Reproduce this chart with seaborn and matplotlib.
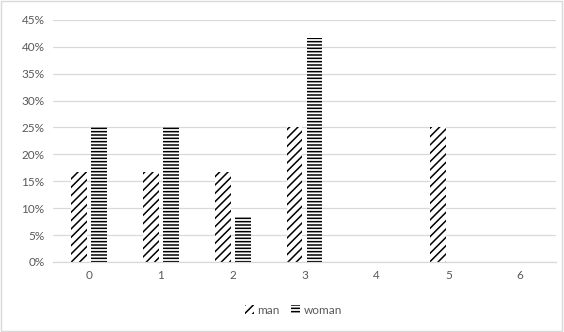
import matplotlib
matplotlib.use("Agg")
import matplotlib.pyplot as plt
import seaborn as sns
import pandas as pd
from matplotlib.ticker import PercentFormatter, MultipleLocator
from matplotlib.patches import Rectangle

categories = ["0", "1", "2", "3", "4", "5", "6"]
man = [0.167, 0.167, 0.167, 0.25, 0.0, 0.25, 0.0]
woman = [0.25, 0.25, 0.083, 0.417, 0.0, 0.0, 0.0]
series = ["man", "woman"]
hatches = {"man": "////", "woman": "-----"}

df = pd.DataFrame({
    "cat": categories * 2,
    "value": man + woman,
    "gender": ["man"] * len(categories) + ["woman"] * len(categories),
})

sns.set_theme(style="white")
plt.rcParams["font.family"] = ["Lato", "DejaVu Sans"]
plt.rcParams["hatch.linewidth"] = 1.1

fig = plt.figure(figsize=(5.64, 3.32), dpi=100)
ax = fig.add_axes([0.094, 0.211, 0.892, 0.729])

sns.barplot(data=df, x="cat", y="value", hue="gender", order=categories,
            hue_order=series, palette=["white", "white"], width=0.556, gap=0.21,
            edgecolor="black", linewidth=0, legend=False, ax=ax)

for cont, s in zip(ax.containers, series):
    for p in cont.patches:
        p.set_hatch(hatches[s])
        p.set_edgecolor("black")
        p.set_linewidth(0)

ax.set_ylim(0, 0.45)
ax.set_xlim(-0.5, 6.5)
ax.yaxis.set_major_locator(MultipleLocator(0.05))
ax.yaxis.set_major_formatter(PercentFormatter(1.0, decimals=0))
ax.grid(axis="y", color="#d9d9d9", linewidth=0.9)
ax.set_axisbelow(True)
for sp in ["top", "right", "left"]:
    ax.spines[sp].set_visible(False)
ax.spines["bottom"].set_color("#d9d9d9")
ax.spines["bottom"].set_linewidth(0.9)
ax.tick_params(axis="both", colors="#595959", labelsize=8.5, length=0, pad=6)
ax.set_xlabel("")
ax.set_ylabel("")

handles = [Rectangle((0, 0), 1, 1, facecolor="white", edgecolor="black",
                     linewidth=0, hatch=hatches[s]) for s in series]
leg = fig.legend(handles, series, loc="center", bbox_to_anchor=(0.52, 0.066),
                 ncol=2, frameon=False, fontsize=8.5, handlelength=0.8,
                 handleheight=0.8, handletextpad=0.3, columnspacing=0.9)
for t in leg.get_texts():
    t.set_color("#595959")

fig.patches.append(Rectangle((0.002, 0.003), 0.995, 0.993, transform=fig.transFigure,
                             fill=False, edgecolor="#d9d9d9", linewidth=1))

fig.savefig("out.png", dpi=100)
